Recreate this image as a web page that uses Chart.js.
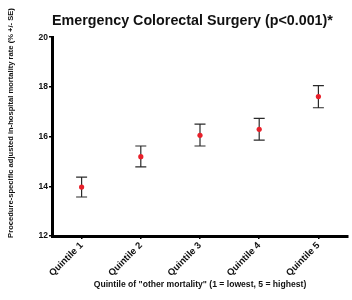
<!DOCTYPE html>
<html>
<head>
<meta charset="utf-8">
<script src="https://cdn.jsdelivr.net/npm/chart.js@4"></script>
<style>
html,body{margin:0;padding:0;background:#fff;}
#wrap{width:352px;height:300px;position:relative;}
</style>
</head>
<body>
<div id="wrap"><canvas id="c" width="352" height="300"></canvas></div>
<script>
const categories = ["Quintile 1", "Quintile 2", "Quintile 3", "Quintile 4", "Quintile 5"];
const means = [13.97, 15.19, 16.05, 16.29, 17.61];
const lower = [13.57, 14.78, 15.62, 15.86, 17.16];
const upper = [14.37, 15.62, 16.50, 16.73, 18.05];
const yTicks = [12, 14, 16, 18, 20];

const titleText = "Emergency Colorectal Surgery (p<0.001)*";
const yTitleText = "Procedure-specific adjusted in-hospital mortality rate (% +/- SE)";
const xTitleText = "Quintile of \"other mortality\" (1 = lowest, 5 = highest)";

const FONT = "'Liberation Sans', Arial, sans-serif";

const errorBars = {
  id: 'errorBars',
  beforeDatasetsDraw(chart) {
    const ctx = chart.ctx;
    const xs = chart.scales.x, ys = chart.scales.y;
    ctx.save();
    ctx.strokeStyle = '#2a2a2a';
    ctx.lineWidth = 1.2;
    for (let i = 0; i < means.length; i++) {
      const x = xs.getPixelForValue(i);
      const yl = ys.getPixelForValue(lower[i]);
      const yu = ys.getPixelForValue(upper[i]);
      ctx.beginPath();
      ctx.moveTo(x, yl); ctx.lineTo(x, yu);
      ctx.moveTo(x - 5.5, yl); ctx.lineTo(x + 5.5, yl);
      ctx.moveTo(x - 5.5, yu); ctx.lineTo(x + 5.5, yu);
      ctx.stroke();
    }
    ctx.restore();
  }
};

const yTitle = {
  id: 'yTitle',
  afterDraw(chart) {
    const ctx = chart.ctx;
    ctx.save();
    ctx.translate(11, 123);
    ctx.rotate(-Math.PI / 2);
    ctx.font = "bold 7.6px " + FONT;
    ctx.fillStyle = '#111';
    ctx.textAlign = 'center';
    ctx.textBaseline = 'middle';
    ctx.fillText(yTitleText, 0, 0);
    ctx.restore();
  }
};

new Chart(document.getElementById('c'), {
  type: 'line',
  data: {
    labels: categories,
    datasets: [{
      data: means,
      showLine: false,
      pointRadius: 2.6,
      pointBackgroundColor: '#e8202a',
      pointBorderColor: '#e8202a',
      pointBorderWidth: 0
    }]
  },
  options: {
    responsive: false,
    animation: false,
    devicePixelRatio: 1,
    layout: { padding: { left: 0, right: 3, top: 0, bottom: 0 } },
    plugins: {
      legend: { display: false },
      tooltip: { enabled: false },
      title: {
        display: true,
        text: titleText,
        align: 'start',
        fullSize: false,
        color: '#111',
        font: { family: FONT, size: 14.3, weight: 'bold' },
        padding: { top: 12, bottom: 8 }
      }
    },
    scales: {
      x: {
        type: 'category',
        offset: true,
        afterFit(scale) { scale.height = 64; },
        border: { color: '#000', width: 3 },
        grid: { drawOnChartArea: false, drawTicks: true, tickLength: 3, color: '#000', lineWidth: 1.5, offset: false },
        ticks: {
          color: '#111',
          minRotation: 45, maxRotation: 45,
          padding: 1,
          font: { family: FONT, size: 9.5, weight: 'bold' }
        },
        title: {
          display: true,
          text: xTitleText,
          color: '#111',
          font: { family: FONT, size: 8.6, weight: 'bold' },
          padding: { top: 0, bottom: 10 }
        }
      },
      y: {
        min: 12, max: 20,
        afterFit(scale) { scale.width = 52; },
        afterBuildTicks(scale) { scale.ticks = yTicks.map(v => ({ value: v })); },
        border: { color: '#000', width: 3 },
        grid: { drawOnChartArea: false, drawTicks: true, tickLength: 3, color: '#000', lineWidth: 1.5 },
        ticks: {
          color: '#111',
          padding: 1,
          font: { family: FONT, size: 8.5, weight: 'bold' }
        }
      }
    }
  },
  plugins: [errorBars, yTitle]
});
</script>
</body>
</html>
